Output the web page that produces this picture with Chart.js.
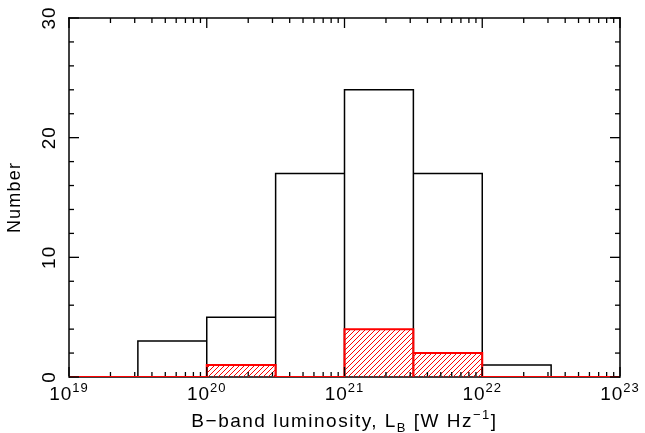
<!DOCTYPE html>
<html>
<head>
<meta charset="utf-8">
<script src="https://cdn.jsdelivr.net/npm/chart.js@4.4.1/dist/chart.umd.min.js"></script>
<style>
  html, body { margin: 0; padding: 0; background: #fff; }
</style>
</head>
<body>
<canvas id="histChart" width="645" height="433"></canvas>
<script>
// bin edges in log10(L_B), counts per bin
const binEdgesLog = [19, 19.5, 20, 20.5, 21, 21.5, 22, 22.5, 23]
const allCounts = [0, 3, 5, 17, 24, 17, 1, 0]
const redCounts = [0, 0, 1, 0, 4, 2, 0, 0]

// axis ticks
const xMajorTicks = [1e19, 1e20, 1e21, 1e22, 1e23]
const xMajorExps = ["19", "20", "21", "22", "23"]
const xMinorSteps = [2, 3, 4, 5, 6, 7, 8, 9]
const yMajorTicks = [0, 10, 20, 30]
const yMinorStep = 2

const FONT = "Liberation Sans, Arial, sans-serif"

function histPoints(counts) {
  const pts = []
  counts.forEach((n, i) => {
    const lo = Math.pow(10, binEdgesLog[i])
    const hi = Math.pow(10, binEdgesLog[i + 1])
    pts.push({ x: lo, y: 0 }, { x: lo, y: n }, { x: hi, y: n }, { x: hi, y: 0 })
  })
  return pts
}

function hatchPattern(ctx) {
  const s = 5
  const c = document.createElement("canvas")
  c.width = s
  c.height = s
  const g = c.getContext("2d")
  g.strokeStyle = "#ff0000"
  g.lineWidth = 1
  g.beginPath()
  g.moveTo(0, s); g.lineTo(s, 0)
  g.moveTo(-1, 1); g.lineTo(1, -1)
  g.moveTo(s - 1, s + 1); g.lineTo(s + 1, s - 1)
  g.stroke()
  return ctx.createPattern(c, "repeat")
}

function line(ctx, x1, y1, x2, y2) {
  ctx.beginPath()
  ctx.moveTo(x1, y1)
  ctx.lineTo(x2, y2)
  ctx.stroke()
}

// box, inward ticks and all labels
const framePlugin = {
  id: "frame",
  beforeDatasetsDraw(chart) {
    const { ctx, chartArea: a } = chart
    ctx.save()
    ctx.strokeStyle = "#000"
    ctx.lineWidth = 1.5
    line(ctx, a.left, a.bottom, a.right, a.bottom)
    ctx.restore()
  },
  afterDatasetsDraw(chart) {
    const { ctx, chartArea: a } = chart
    const xs = chart.scales.x
    const ys = chart.scales.y
    ctx.save()
    ctx.strokeStyle = "#000"
    ctx.lineWidth = 1.5
    ctx.lineCap = "square"
    line(ctx, a.left, a.bottom, a.left, a.top)
    line(ctx, a.left, a.top, a.right, a.top)
    line(ctx, a.right, a.top, a.right, a.bottom)
    ctx.lineCap = "butt"
    ctx.lineWidth = 1.3

    xMajorTicks.forEach((v, i) => {
      const px = xs.getPixelForValue(v)
      line(ctx, px, a.bottom - 1, px, a.bottom - 10)
      line(ctx, px, a.top, px, a.top + 10)
      if (i < xMajorTicks.length - 1) {
        xMinorSteps.forEach(m => {
          const p = xs.getPixelForValue(v * m)
          line(ctx, p, a.bottom - 1, p, a.bottom - 5)
          line(ctx, p, a.top, p, a.top + 5)
        })
      }
    })

    const yMax = yMajorTicks[yMajorTicks.length - 1]
    for (let v = yMajorTicks[0]; v <= yMax; v += yMinorStep) {
      const py = ys.getPixelForValue(v)
      const len = yMajorTicks.includes(v) ? 10 : 5
      line(ctx, a.left, py, a.left + len, py)
      line(ctx, a.right, py, a.right - len, py)
    }

    // x tick labels 10^n
    ctx.fillStyle = "#000"
    ctx.textBaseline = "alphabetic"
    ctx.textAlign = "left"
    ctx.letterSpacing = "1px"
    xMajorTicks.forEach((v, i) => {
      const px = xs.getPixelForValue(v)
      ctx.font = "19px " + FONT
      const wb = ctx.measureText("10").width
      ctx.font = "13px " + FONT
      const we = ctx.measureText(xMajorExps[i]).width
      const x0 = px - (wb + we) / 2
      ctx.font = "19px " + FONT
      ctx.fillText("10", x0, a.bottom + 23)
      ctx.font = "13px " + FONT
      ctx.fillText(xMajorExps[i], x0 + wb, a.bottom + 15)
    })

    // y tick labels, rotated
    ctx.font = "19px " + FONT
    ctx.textAlign = "center"
    yMajorTicks.forEach(v => {
      const py = ys.getPixelForValue(v)
      ctx.save()
      ctx.translate(a.left - 14, py)
      ctx.rotate(-Math.PI / 2)
      ctx.fillText(String(v), 0, 0)
      ctx.restore()
    })

    // y title
    ctx.font = "18px " + FONT
    ctx.letterSpacing = "1.2px"
    ctx.save()
    ctx.translate(20, (a.top + a.bottom) / 2)
    ctx.rotate(-Math.PI / 2)
    ctx.fillText("Number", 0, 0)
    ctx.restore()

    // x title with sub/superscripts
    const parts = [
      { t: "B\u2212band luminosity, L", size: 19, dy: 0 },
      { t: "B", size: 13, dy: 5 },
      { t: " [W Hz", size: 19, dy: 0 },
      { t: "\u22121", size: 13, dy: -8 },
      { t: "]", size: 19, dy: 0 }
    ]
    ctx.textAlign = "left"
    ctx.letterSpacing = "1.5px"
    let total = 0
    parts.forEach(p => {
      ctx.font = p.size + "px " + FONT
      p.w = ctx.measureText(p.t).width
      total += p.w
    })
    let x = (a.left + a.right) / 2 - total / 2
    const base = a.bottom + 50
    parts.forEach(p => {
      ctx.font = p.size + "px " + FONT
      ctx.fillText(p.t, x, base + p.dy)
      x += p.w
    })
    ctx.restore()
  }
}

function initializeHistogram() {
  const canvas = document.getElementById("histChart")
  const ctx = canvas.getContext("2d")

  new Chart(canvas, {
    type: "line",
    data: {
      datasets: [
        {
          label: "subset",
          data: histPoints(redCounts),
          borderColor: "#ff0000",
          backgroundColor: hatchPattern(ctx),
          borderWidth: 2,
          fill: "origin",
          pointRadius: 0,
          tension: 0,
        },
        {
          label: "all",
          data: histPoints(allCounts),
          borderColor: "#000000",
          borderWidth: 1.5,
          fill: false,
          pointRadius: 0,
          tension: 0,
        },
      ],
    },
    options: {
      responsive: false,
      animation: false,
      events: [],
      layout: {
        padding: { left: 69, right: 25, top: 18, bottom: 56 },
      },
      plugins: {
        legend: { display: false },
        tooltip: { enabled: false },
      },
      scales: {
        x: {
          type: "logarithmic",
          min: xMajorTicks[0],
          max: xMajorTicks[xMajorTicks.length - 1],
          display: false,
        },
        y: {
          type: "linear",
          min: yMajorTicks[0],
          max: yMajorTicks[yMajorTicks.length - 1],
          display: false,
        },
      },
    },
    plugins: [framePlugin],
  })
}

initializeHistogram()
</script>
</body>
</html>
